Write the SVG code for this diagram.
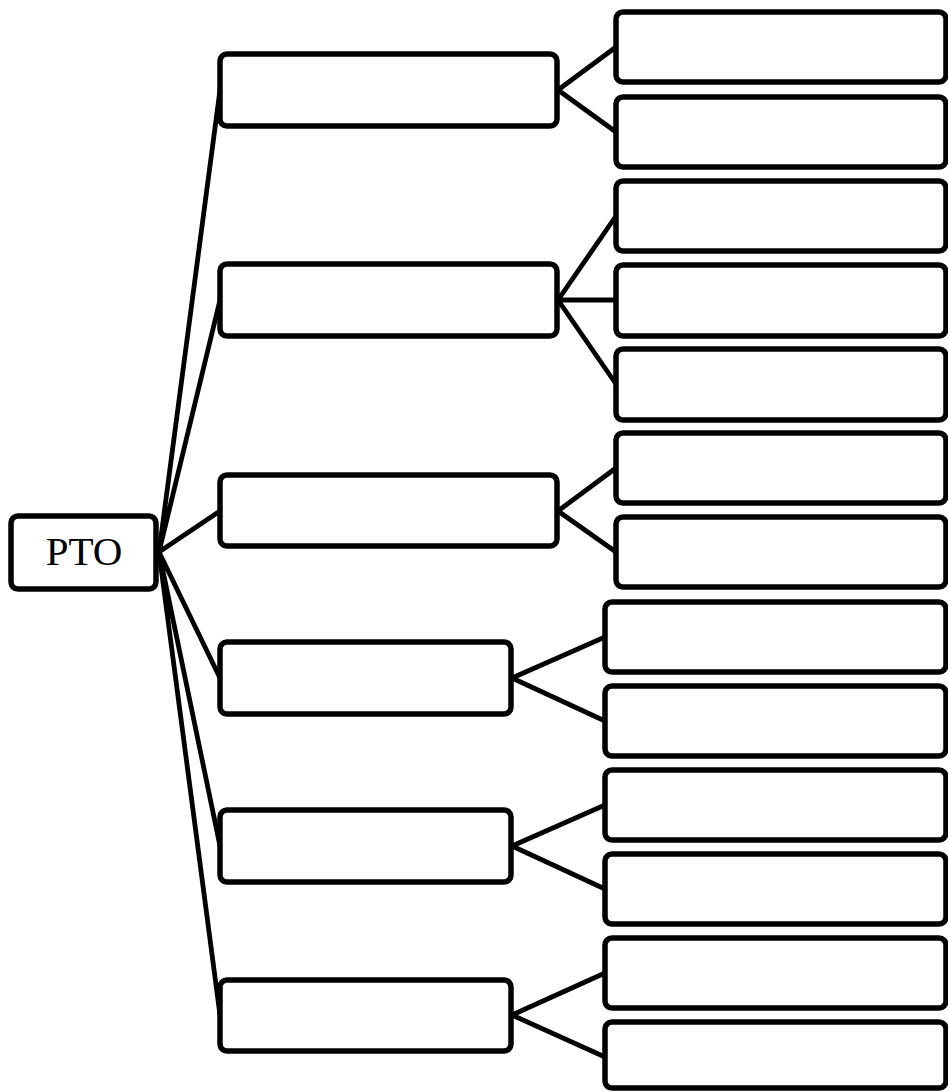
<svg xmlns="http://www.w3.org/2000/svg" width="948" height="1091" viewBox="0 0 948 1091">
<style>
.n{fill:#fff;stroke:#000;stroke-width:5.5}
.c{stroke:#000;stroke-width:4.8;fill:none;stroke-linecap:round}
.t{font-family:"Liberation Serif",serif;font-size:41px;fill:#000}
</style>
<rect width="948" height="1091" fill="#fff"/>
<g id="connectors">
<path class="c" d="M159 552L220 90M159 552L220 300M159 552L220 511M159 552L220 678M159 552L220 846M159 552L220 1015"/>
<path class="c" d="M558 90L616 47M558 90L616 132"/>
<path class="c" d="M558 300L616 216M558 300L616 300M558 300L616 384"/>
<path class="c" d="M558 511L616 468M558 511L616 552"/>
<path class="c" d="M512 678L605 637M512 678L605 721"/>
<path class="c" d="M512 846L605 805M512 846L605 889"/>
<path class="c" d="M512 1015L605 973M512 1015L605 1057"/>
</g>
<g id="pto"><rect class="n" x="11" y="516" width="145" height="73" rx="7"/><text class="t" x="84" y="565" text-anchor="middle">PTO</text></g>
<g id="a1"><rect class="n" x="220" y="54" width="337" height="72" rx="7"/></g>
<g id="a2"><rect class="n" x="220" y="264" width="337" height="72" rx="7"/></g>
<g id="a3"><rect class="n" x="220" y="475" width="337" height="71" rx="7"/></g>
<g id="a4"><rect class="n" x="220" y="642" width="291" height="72" rx="7"/></g>
<g id="a5"><rect class="n" x="220" y="810" width="291" height="72" rx="7"/></g>
<g id="a6"><rect class="n" x="220" y="980" width="291" height="71" rx="7"/></g>
<g id="b1"><rect class="n" x="616" y="12" width="330" height="70" rx="7"/></g>
<g id="b2"><rect class="n" x="616" y="97" width="330" height="70" rx="7"/></g>
<g id="b3"><rect class="n" x="616" y="181" width="330" height="70" rx="7"/></g>
<g id="b4"><rect class="n" x="616" y="265" width="330" height="71" rx="7"/></g>
<g id="b5"><rect class="n" x="616" y="349" width="330" height="71" rx="7"/></g>
<g id="b6"><rect class="n" x="616" y="433" width="330" height="70" rx="7"/></g>
<g id="b7"><rect class="n" x="616" y="517" width="330" height="70" rx="7"/></g>
<g id="b8"><rect class="n" x="605" y="602" width="341" height="70" rx="7"/></g>
<g id="b9"><rect class="n" x="605" y="686" width="341" height="70" rx="7"/></g>
<g id="b10"><rect class="n" x="605" y="770" width="341" height="70" rx="7"/></g>
<g id="b11"><rect class="n" x="605" y="854" width="341" height="70" rx="7"/></g>
<g id="b12"><rect class="n" x="605" y="938" width="341" height="70" rx="7"/></g>
<g id="b13"><rect class="n" x="605" y="1022" width="341" height="66" rx="7"/></g>
</svg>
